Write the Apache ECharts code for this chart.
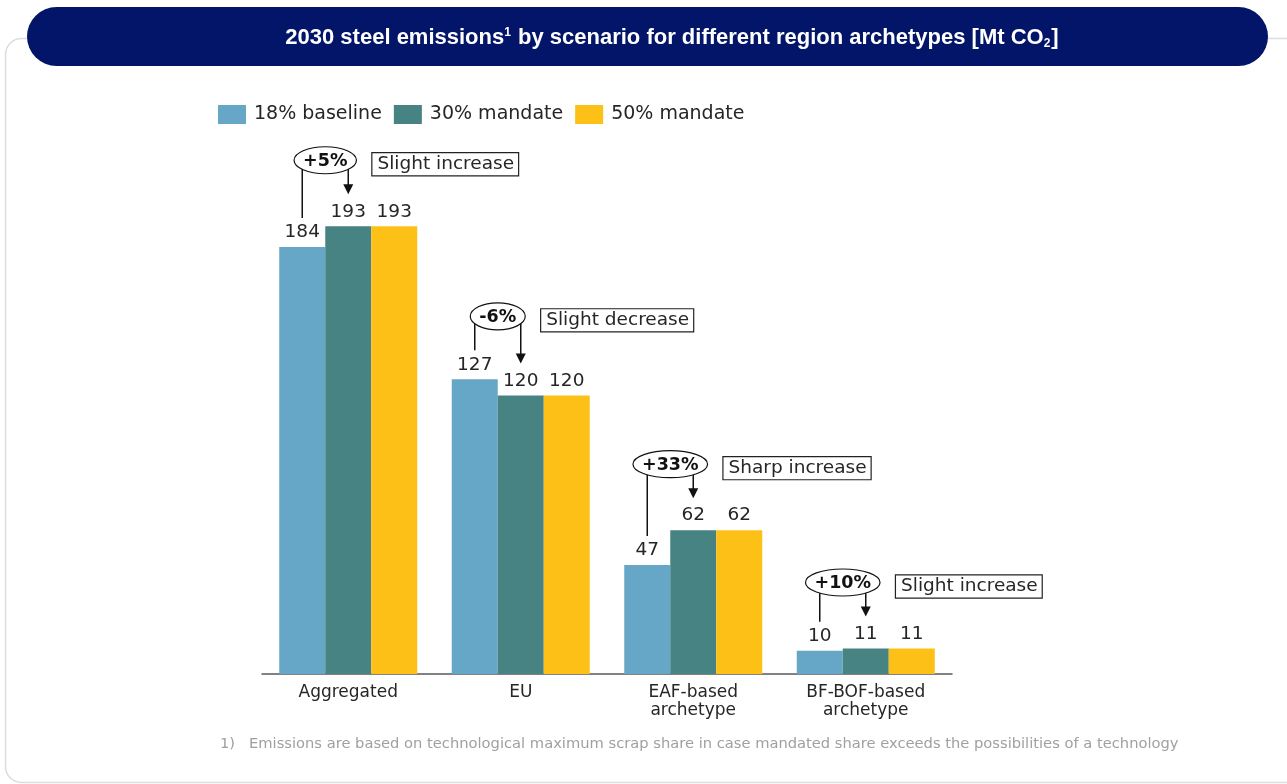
<!DOCTYPE html>
<html><head><meta charset="utf-8">
<script src="https://cdn.jsdelivr.net/npm/echarts@6/dist/echarts.min.js"></script>
<style>html,body{margin:0;padding:0;background:#fff}#c{width:1287px;height:784px}</style>
</head><body><div id="c"></div>
<script>
const categories = ['Aggregated', 'EU', 'EAF-based\narchetype', 'BF-BOF-based\narchetype'];
const seriesNames = ['18% baseline', '30% mandate', '50% mandate'];
const baseline18 = [184, 127, 47, 10];
const mandate30 = [193, 120, 62, 11];
const mandate50 = [193, 120, 62, 11];
const changeLabels = ['+5%', '-6%', '+33%', '+10%'];
const trendLabels = ['Slight increase', 'Slight decrease', 'Sharp increase', 'Slight increase'];
const titleParts = ['2030 steel emissions', '1', ' by scenario for different region archetypes [Mt CO', '2', ']'];
const footnoteMark = '1)';
const footnoteText = 'Emissions are based on technological maximum scrap share in case mandated share exceeds the possibilities of a technology';

const colors = ['#66a6c6', '#468382', '#fdc016'];
const FONT = 'DejaVu Sans';
const TXT = '#262626';

const chart = echarts.init(document.getElementById('c'), null, {renderer: 'canvas'});

const seriesData = [baseline18, mandate30, mandate50];

function baseGraphics() {
  return [
    {type: 'rect', id: 'bg', z: -10, shape: {x: 5.5, y: 38.5, width: 1300, height: 744, r: 16},
     style: {fill: '#fff', stroke: '#dcdcdc', lineWidth: 1.5}},
    {type: 'rect', id: 'pill', z: 1, shape: {x: 27, y: 7, width: 1241, height: 59, r: 29.5},
     style: {fill: '#021569'}},
    {type: 'text', id: 'title', z: 2, x: 672, y: 38,
     style: {
       text: '{b|' + titleParts[0] + '}{sup|' + titleParts[1] + '}{b|' + titleParts[2] + '}{sub|' + titleParts[3] + '}{b|' + titleParts[4] + '}',
       align: 'center', verticalAlign: 'middle', fill: '#fff',
       rich: {
         b: {fontFamily: 'Liberation Sans', fontWeight: 'bold', fontSize: 22, fill: '#fff', lineHeight: 26},
         sup: {fontFamily: 'Liberation Sans', fontWeight: 'bold', fontSize: 12, fill: '#fff', lineHeight: 26, verticalAlign: 'top', padding: [2, 1, 0, 0]},
         sub: {fontFamily: 'Liberation Sans', fontWeight: 'bold', fontSize: 12, fill: '#fff', lineHeight: 26, verticalAlign: 'bottom', padding: [0, 1, 1, 0]}
       }
     }},
    {type: 'text', id: 'fnm', x: 220, y: 744,
     style: {text: footnoteMark, fontFamily: FONT, fontSize: 14.7, fill: '#a0a0a0', verticalAlign: 'middle'}},
    {type: 'text', id: 'fnt', x: 249, y: 744,
     style: {text: footnoteText, fontFamily: FONT, fontSize: 14.7, fill: '#a0a0a0', verticalAlign: 'middle'}}
  ];
}

const option = {
  animation: false,
  color: colors,
  textStyle: {fontFamily: FONT},
  grid: {left: 262, right: 335, top: 210, bottom: 110, containLabel: false},
  legend: {
    left: 218, top: 105, padding: 0, itemWidth: 28, itemHeight: 19, itemGap: 12, icon: 'rect',
    textStyle: {fontFamily: FONT, fontSize: 19, color: TXT, padding: [0, 0, 0, 3]},
    data: seriesNames
  },
  xAxis: {
    type: 'category', data: categories,
    axisLine: {lineStyle: {color: '#595959', width: 1.5}},
    axisTick: {show: false},
    axisLabel: {fontFamily: FONT, fontSize: 17, color: TXT, lineHeight: 18, margin: 10, interval: 0}
  },
  yAxis: {type: 'value', min: 0, max: 200, show: false, splitLine: {show: false}},
  series: seriesNames.map((n, k) => ({
    name: n, type: 'bar', data: seriesData[k],
    barGap: '0%', barCategoryGap: '20%',
    itemStyle: {color: colors[k]},
    label: {show: true, position: 'top', distance: 5, fontFamily: FONT, fontSize: 18.5, color: TXT}
  })),
  graphic: {elements: baseGraphics()}
};
chart.setOption(option);

// annotations derived from the bar layout
const ctx = document.createElement('canvas').getContext('2d');
function measure(t, font) { ctx.font = font; return ctx.measureText(t).width; }

const els = baseGraphics();
const model = chart.getModel();
const d0 = model.getSeriesByIndex(0).getData();
const d1 = model.getSeriesByIndex(1).getData();
categories.forEach((c, i) => {
  const l0 = d0.getItemLayout(i), l1 = d1.getItemLayout(i);
  const x0 = l0.x + l0.width / 2, x1 = l1.x + l1.width / 2;
  const y0 = chart.convertToPixel({gridIndex: 0}, [i, baseline18[i]])[1];
  const y1 = chart.convertToPixel({gridIndex: 0}, [i, mandate30[i]])[1];
  const lineEnd = y0 - 29;
  const tip = y1 - 32;
  const cy = Math.min(lineEnd, tip) - 34;
  const cx = (x0 + x1) / 2;
  const pf = 'bold 17.5px "' + FONT + '"';
  const w = measure(changeLabels[i], pf) + 18;
  const h = 27;
  els.push({type: 'line', id: 'la' + i, shape: {x1: x0, y1: cy, x2: x0, y2: lineEnd}, style: {stroke: '#111', lineWidth: 1.5}});
  els.push({type: 'line', id: 'lb' + i, shape: {x1: x1, y1: cy, x2: x1, y2: tip - 8}, style: {stroke: '#111', lineWidth: 1.5}});
  els.push({type: 'polygon', id: 'ar' + i, shape: {points: [[x1 - 5, tip - 10], [x1 + 5, tip - 10], [x1, tip]]}, style: {fill: '#111'}});
  els.push({type: 'ellipse', id: 'el' + i, shape: {cx: cx, cy: cy, rx: w / 2, ry: h / 2}, style: {fill: '#fff', stroke: '#111', lineWidth: 1.2}});
  els.push({type: 'text', id: 'pt' + i, x: cx, y: cy + 1, style: {text: changeLabels[i], font: pf, fill: '#111', align: 'center', verticalAlign: 'middle'}});
  els.push({type: 'text', id: 'tb' + i, x: cx + w / 2 + 16, y: cy + 4,
    style: {text: trendLabels[i], fontFamily: FONT, fontSize: 18.5, fill: TXT, align: 'left', verticalAlign: 'middle',
      borderColor: '#222', borderWidth: 1.2, padding: [2, 4, 1, 5], backgroundColor: '#fff'}});
});
chart.setOption({graphic: {elements: els}});
</script>
</body></html>
